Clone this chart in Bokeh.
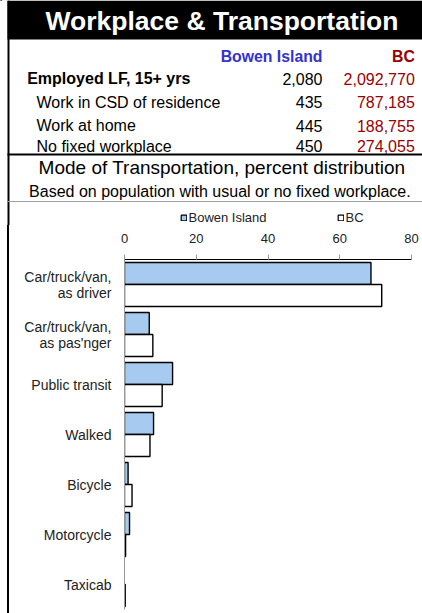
from bokeh.plotting import figure
from bokeh.models import (ColumnDataSource, Range1d, FactorRange, FixedTicker,
                          Legend, LegendItem)
from bokeh.transform import dodge
from bokeh.core.properties import value
from bokeh.embed import file_html
from bokeh.resources import INLINE

# ---------------- data ----------------
title = "Workplace & Transportation"
col_headers = ["Bowen Island", "BC"]
table_labels = ["Employed LF, 15+ yrs", "Work in CSD of residence",
                "Work at home", "No fixed workplace"]
table_bowen = ["2,080", "435", "445", "450"]
table_bc = ["2,092,770", "787,185", "188,755", "274,055"]
chart_title = "Mode of Transportation, percent distribution"
chart_subtitle = "Based on population with usual or no fixed workplace."
series_names = ["Bowen Island", "BC"]

categories = ["Car/truck/van,\nas driver", "Car/truck/van,\nas pas'nger",
              "Public transit", "Walked", "Bicycle", "Motorcycle", "Taxicab"]
bowen_pct = [68.7, 6.9, 13.4, 8.1, 1.0, 1.4, 0.0]
bc_pct = [71.7, 7.9, 10.5, 7.1, 2.1, 0.3, 0.2]
x_ticks = [0, 20, 40, 60, 80]

# ---------------- styles / layout ----------------
FONT = "Liberation Sans"
BLUE_TXT = "#3333CC"
RED_TXT = "#990000"
BAR_BLUE = "#A6CAF0"
GRAY = "#A0A0A0"

W = 422
H_HEAD = 225
H_CHART = 388
LEFT = 7          # white gap left of the black frame line
BORDER = 2

# ---------------- header (title, table, subtitle, legend) ----------------
head = figure(width=W, height=H_HEAD, x_range=Range1d(0, W), y_range=Range1d(H_HEAD, 0),
              toolbar_location=None, output_backend="svg", min_border=0,
              x_axis_location=None, y_axis_location=None, outline_line_color=None)
head.grid.visible = False

head.quad(left=[LEFT], right=[W], top=[0], bottom=[39], fill_color="black", line_color=None)
head.quad(left=[LEFT], right=[LEFT + BORDER], top=[0], bottom=[H_HEAD],
          fill_color="black", line_color=None)
head.text(x=[221.5], y=[20], text=[title], text_font=value(FONT), text_font_style="bold",
          text_font_size="26.5px", text_color="white", text_align="center",
          text_baseline="middle")

head.text(x=[322, 414.3], y=[55.5, 55.5], text=col_headers, text_color=[BLUE_TXT, RED_TXT],
          text_font=value(FONT), text_font_style="bold", text_font_size="15.8px",
          text_align="right", text_baseline="middle")

row_y = [78, 101.5, 125, 145.8]
row_x = [26.7, 36, 36, 36]
head.text(x=row_x[:1], y=row_y[:1], text=table_labels[:1], text_font=value(FONT),
          text_font_style="bold", text_font_size="16px", text_color="black",
          text_align="left", text_baseline="middle")
head.text(x=row_x[1:], y=row_y[1:], text=table_labels[1:], text_font=value(FONT),
          text_font_size="16px", text_color="black",
          text_align="left", text_baseline="middle")
head.text(x=[322] * 4, y=row_y, text=table_bowen, text_font=value(FONT),
          text_font_size="16px", text_color="black", text_align="right",
          text_baseline="middle")
head.text(x=[414.3] * 4, y=row_y, text=table_bc, text_font=value(FONT),
          text_font_size="16px", text_color=RED_TXT, text_align="right",
          text_baseline="middle")

head.segment(x0=[LEFT], x1=[W], y0=[154], y1=[154], line_color="black", line_width=2)
head.text(x=[221.5], y=[167], text=[chart_title], text_font=value(FONT),
          text_font_size="19px", text_color="black", text_align="center",
          text_baseline="middle")
head.text(x=[219.4], y=[190.5], text=[chart_subtitle], text_font=value(FONT),
          text_font_size="16px", text_color="black", text_align="center",
          text_baseline="middle")
head.segment(x0=[LEFT], x1=[W], y0=[201], y1=[201], line_color=GRAY, line_width=1)

# legend swatches (same styling as the bars below; their one point lies off-canvas)
lb = head.hbar(y=[-50], left=[0], right=[1], height=1, fill_color=BAR_BLUE,
               line_color="black", line_width=1.2)
lc = head.hbar(y=[-50], left=[0], right=[1], height=1, fill_color="white",
               line_color="black", line_width=1.2)
legend = Legend(items=[LegendItem(label=series_names[0], renderers=[lb]),
                       LegendItem(label=series_names[1], renderers=[lc])],
                orientation="horizontal", location=(179.5, 0),
                border_line_color=None, background_fill_alpha=0, padding=0, margin=0,
                spacing=70, glyph_width=7, glyph_height=7, label_standoff=2,
                label_height=14, label_text_font=FONT, label_text_font_size="13px",
                label_text_color="#222222")
head.add_layout(legend)

# ---------------- chart ----------------
src = ColumnDataSource(dict(
    cat=categories, bowen=bowen_pct, bc=bc_pct,
    bowen_la=[1 if v > 0 else 0 for v in bowen_pct],
    bc_la=[1 if v > 0 else 0 for v in bc_pct],
))

p = figure(width=W - LEFT - BORDER, height=H_CHART,
           y_range=FactorRange(factors=categories[::-1]),
           x_range=Range1d(0, 80), x_axis_location="above", toolbar_location=None,
           output_backend="svg", min_border_left=115, min_border_right=11,
           min_border_top=34, min_border_bottom=4, outline_line_color=None,
           styles={"margin-left": f"{LEFT}px", "border-left": f"{BORDER}px solid black"})
p.grid.visible = False

p.hbar(y=dodge("cat", 0.22, range=p.y_range), left=0, right="bowen", height=0.44,
       source=src, fill_color=BAR_BLUE, line_color="black", line_width=1.4,
       line_alpha="bowen_la")
p.hbar(y=dodge("cat", -0.22, range=p.y_range), left=0, right="bc", height=0.44,
       source=src, fill_color="white", line_color="black", line_width=1.4,
       line_alpha="bc_la")

xa = p.xaxis[0]
xa.ticker = FixedTicker(ticks=x_ticks)
xa.minor_tick_line_color = None
xa.major_tick_line_color = "#999999"
xa.major_tick_out = 5
xa.major_tick_in = 0
xa.axis_line_color = "black"
xa.major_label_text_font = FONT
xa.major_label_text_font_size = "13px"
xa.major_label_text_color = "#222222"
xa.major_label_standoff = 12

ya = p.yaxis[0]
ya.axis_line_color = "#999999"
ya.major_tick_line_color = None
ya.minor_tick_line_color = None
ya.major_tick_out = 0
ya.major_tick_in = 0
ya.major_label_text_font = FONT
ya.major_label_text_font_size = "14px"
ya.major_label_text_color = "#222222"
ya.major_label_standoff = 13
ya.major_label_text_line_height = 1.0

with open("out.html", "w") as f:
    f.write(file_html([head, p], INLINE))
